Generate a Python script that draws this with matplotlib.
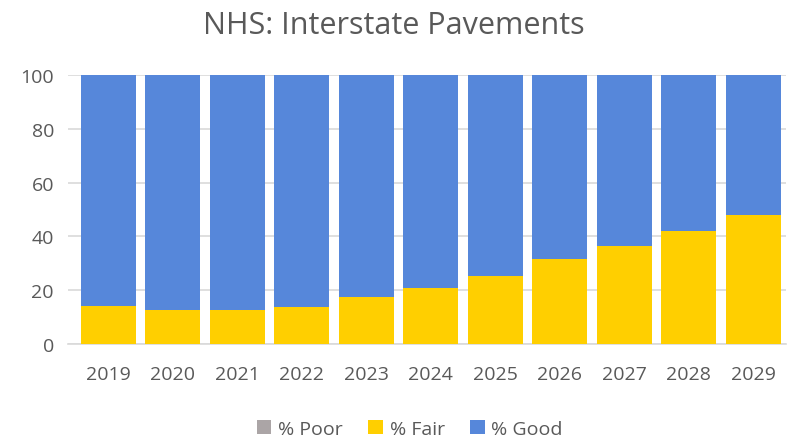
import matplotlib
matplotlib.use("Agg")
import matplotlib.pyplot as plt
import numpy as np

years = ["2019", "2020", "2021", "2022", "2023", "2024", "2025", "2026", "2027", "2028", "2029"]
pct_poor = [0, 0, 0, 0, 0, 0, 0, 0, 0, 0, 0]
pct_fair = [14.3, 12.5, 12.7, 13.6, 17.5, 21.0, 25.2, 31.5, 36.4, 42.0, 47.9]
pct_good = [100 - p - f for p, f in zip(pct_poor, pct_fair)]

plt.rcParams["font.family"] = ["Open Sans", "DejaVu Sans"]
text_color = "#595959"

fig = plt.figure(figsize=(7.88, 4.39), dpi=100)
ax = fig.add_axes([0.086, 0.214, 0.911, 0.613])

x = np.arange(len(years))
w = 0.85
poor = np.array(pct_poor)
fair = np.array(pct_fair)
ax.bar(x, poor, w, color="#ABA5A6", label="% Poor", zorder=3)
ax.bar(x, fair, w, bottom=poor, color="#FFCF00", label="% Fair", zorder=3)
ax.bar(x, pct_good, w, bottom=poor + fair, color="#5687DA", label="% Good", zorder=3)

ax.set_ylim(0, 100)
ax.set_xlim(-0.63, 10.5)
ax.set_yticks(range(0, 101, 20))
ax.set_xticks(x)
ax.set_xticklabels(years)
ax.tick_params(axis="both", length=0, labelsize=14, colors=text_color)
ax.tick_params(axis="x", pad=15)
ax.tick_params(axis="y", pad=10)
ax.grid(axis="y", color="#D9D9D9", linewidth=1.2, zorder=0)
for s in ["top", "right", "left"]:
    ax.spines[s].set_visible(False)
ax.spines["bottom"].set_color("#D9D9D9")
ax.spines["bottom"].set_linewidth(1.2)

fig.suptitle("NHS: Interstate Pavements", fontsize=22, color=text_color, y=0.975)
fig.legend(loc="lower center", bbox_to_anchor=(0.52, -0.04), ncol=3, frameon=False,
           fontsize=14, labelcolor=text_color, handlelength=0.75, handleheight=0.75,
           handletextpad=0.35, columnspacing=1.3)

fig.savefig("out.png", dpi=100)
